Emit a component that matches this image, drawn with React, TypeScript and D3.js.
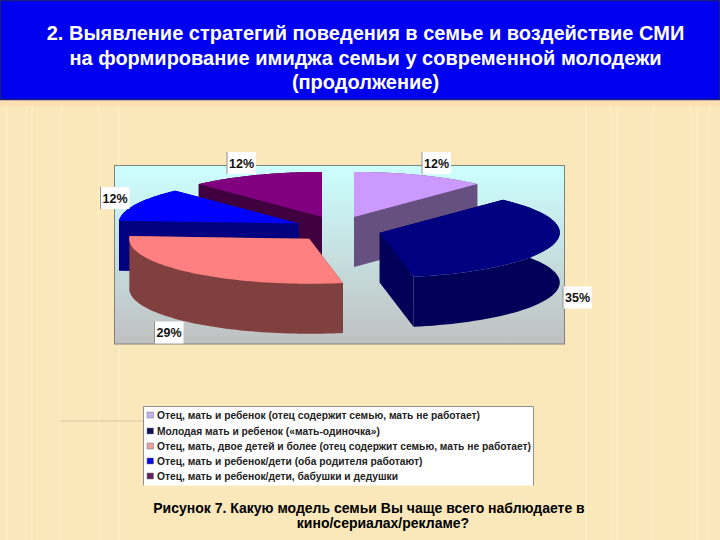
import React from "react";
import * as d3 from "d3";

const categories = [
  "Отец, мать и ребенок (отец содержит семью, мать не работает)",
  "Молодая мать и ребенок («мать-одиночка»)",
  "Отец, мать, двое детей и более (отец содержит семью, мать не работает)",
  "Отец, мать и ребенок/дети (оба родителя работают)",
  "Отец, мать и ребенок/дети, бабушки и дедушки",
];
const shares = [12, 35, 29, 12, 12];
const topColors = ["#cc99ff", "#000080", "#ff8080", "#0000ff", "#800080"];
const sideColors = ["#66507f", "#000058", "#804040", "#000080", "#400040"];
const swatchColors = ["#c4b0ee", "#10105e", "#e8a0a0", "#0808e0", "#602060"];
const labelAnchors = [
  [436.5, 163],
  [577.5, 297.5],
  [169, 332.5],
  [115, 198],
  [241.5, 163],
];
const legendRowY = [415, 431, 446, 461, 476];
const titleLines = [
  "2. Выявление стратегий поведения в семье и воздействие СМИ",
  "на формирование имиджа семьи у современной молодежи",
  "(продолжение)",
];
const captionLines = [
  "Рисунок 7. Какую модель семьи Вы чаще всего наблюдаете в",
  "кино/сериалах/рекламе?",
];
const captionCenters = [369, 383];
const drawOrder = [4, 0, 3, 1, 2];
const stripeX = [6, 25, 31, 60, 98, 118, 585, 610, 616, 652, 690, 696, 708];

const CX = 338;
const CY = 229;
const RX = 180;
const RY = 45;
const EX = 43.5;
const EY = 13;
const DEPTH = 50;
const SANS = "'Liberation Sans', Arial, sans-serif";

const pieLayout = d3.pie<number>().sort(null).value((d) => d);
const lineGen = d3.line<[number, number]>();

function slicePaths(a0: number, a1: number) {
  const mid = (a0 + a1) / 2;
  const ax = CX + EX * Math.sin(mid);
  const ay = CY - EY * Math.cos(mid);
  const rim = d3.range(0, 61).map((i) => {
    const t = a0 + ((a1 - a0) * i) / 60;
    return [ax + RX * Math.sin(t), ay - RY * Math.cos(t)] as [number, number];
  });
  const apex: [number, number] = [ax, ay];
  const down = (p: [number, number]): [number, number] => [p[0], p[1] + DEPTH];
  const top = lineGen([apex, ...rim])! + "Z";
  const wall = lineGen([...rim, ...rim.map(down).reverse()])! + "Z";
  const first = rim[0];
  const last = rim[rim.length - 1];
  const face0 = lineGen([apex, first, down(first), down(apex)])! + "Z";
  const face1 = lineGen([apex, last, down(last), down(apex)])! + "Z";
  return { top, wall, face0, face1 };
}

export default function App() {
  const arcs = pieLayout(shares);
  return (
    <svg
      width={720}
      height={540}
      viewBox="0 0 720 540"
      style={{ position: "absolute", left: 0, top: 0, display: "block" }}
      fontFamily={SANS}
    >
      <defs>
        <linearGradient id="plotFill" x1="0" y1="0" x2="0" y2="1">
          <stop offset="0" stopColor="#ccffff" />
          <stop offset="1" stopColor="#c0c0c0" />
        </linearGradient>
      </defs>
      <rect x={0} y={0} width={720} height={540} fill="#fae8ba" />
      {stripeX.map((x) => (
        <rect key={x} x={x} y={100} width={2} height={440} fill="#fff6d8" opacity={0.25} />
      ))}
      <rect x={0} y={100} width={720} height={6} fill="#fde0b2" />
      <line x1={60} x2={143} y1={421} y2={421} stroke="#d8ca9e" strokeWidth={1} />
      <rect x={0.5} y={0.5} width={719} height={99} fill="#0000f0" stroke="#1c1c80" strokeWidth={1.5} />
      {titleLines.map((t, i) => (
        <text
          key={t}
          x={365.5}
          y={40 + i * 24.5}
          textAnchor="middle"
          fontSize={20}
          fontWeight="bold"
          fill="#fff"
        >
          {t}
        </text>
      ))}

      <rect x={114.5} y={165.5} width={450} height={178.5} fill="url(#plotFill)" stroke="#808080" />
      {drawOrder.map((idx) => {
        const a = arcs[idx];
        const p = slicePaths(a.startAngle, a.endAngle);
        return (
          <g key={idx}>
            <path d={p.face0} fill={sideColors[idx]} />
            <path d={p.face1} fill={sideColors[idx]} />
            <path d={p.wall} fill={sideColors[idx]} />
            <path d={p.top} fill={topColors[idx]} />
          </g>
        );
      })}
      {shares.map((v, i) => (
        <g key={i}>
          <rect x={labelAnchors[i][0] - 14.5} y={labelAnchors[i][1] - 11} width={29} height={22} fill="#fff" />
          <line
            x1={labelAnchors[i][0] - 14.5}
            x2={labelAnchors[i][0] - 14.5}
            y1={labelAnchors[i][1] - 11}
            y2={labelAnchors[i][1] + 11}
            stroke="#909090"
          />
          <text
            x={labelAnchors[i][0]}
            y={labelAnchors[i][1] + 4.5}
            textAnchor="middle"
            fontSize={12.5}
            fontWeight="bold"
            fill="#111"
          >
            {v}%
          </text>
        </g>
      ))}

      <rect x={143.5} y={406.5} width={390} height={79} fill="#fff" />
      <path d="M143.5,485.5V406.5H533.5V485.5" fill="none" stroke="#909090" />
      {categories.map((c, i) => (
        <g key={c}>
          <rect x={147} y={legendRowY[i] - 3} width={6.5} height={6} fill={swatchColors[i]} stroke="#777" strokeWidth={0.5} />
          <text x={157} y={legendRowY[i] + 3.5} fontSize={10.25} fontWeight="bold" fill="#222">
            {c}
          </text>
        </g>
      ))}

      {captionLines.map((t, i) => (
        <text
          key={t}
          x={captionCenters[i]}
          y={513 + i * 15}
          textAnchor="middle"
          fontSize={14}
          fontWeight="bold"
          fill="#000"
        >
          {t}
        </text>
      ))}
    </svg>
  );
}
